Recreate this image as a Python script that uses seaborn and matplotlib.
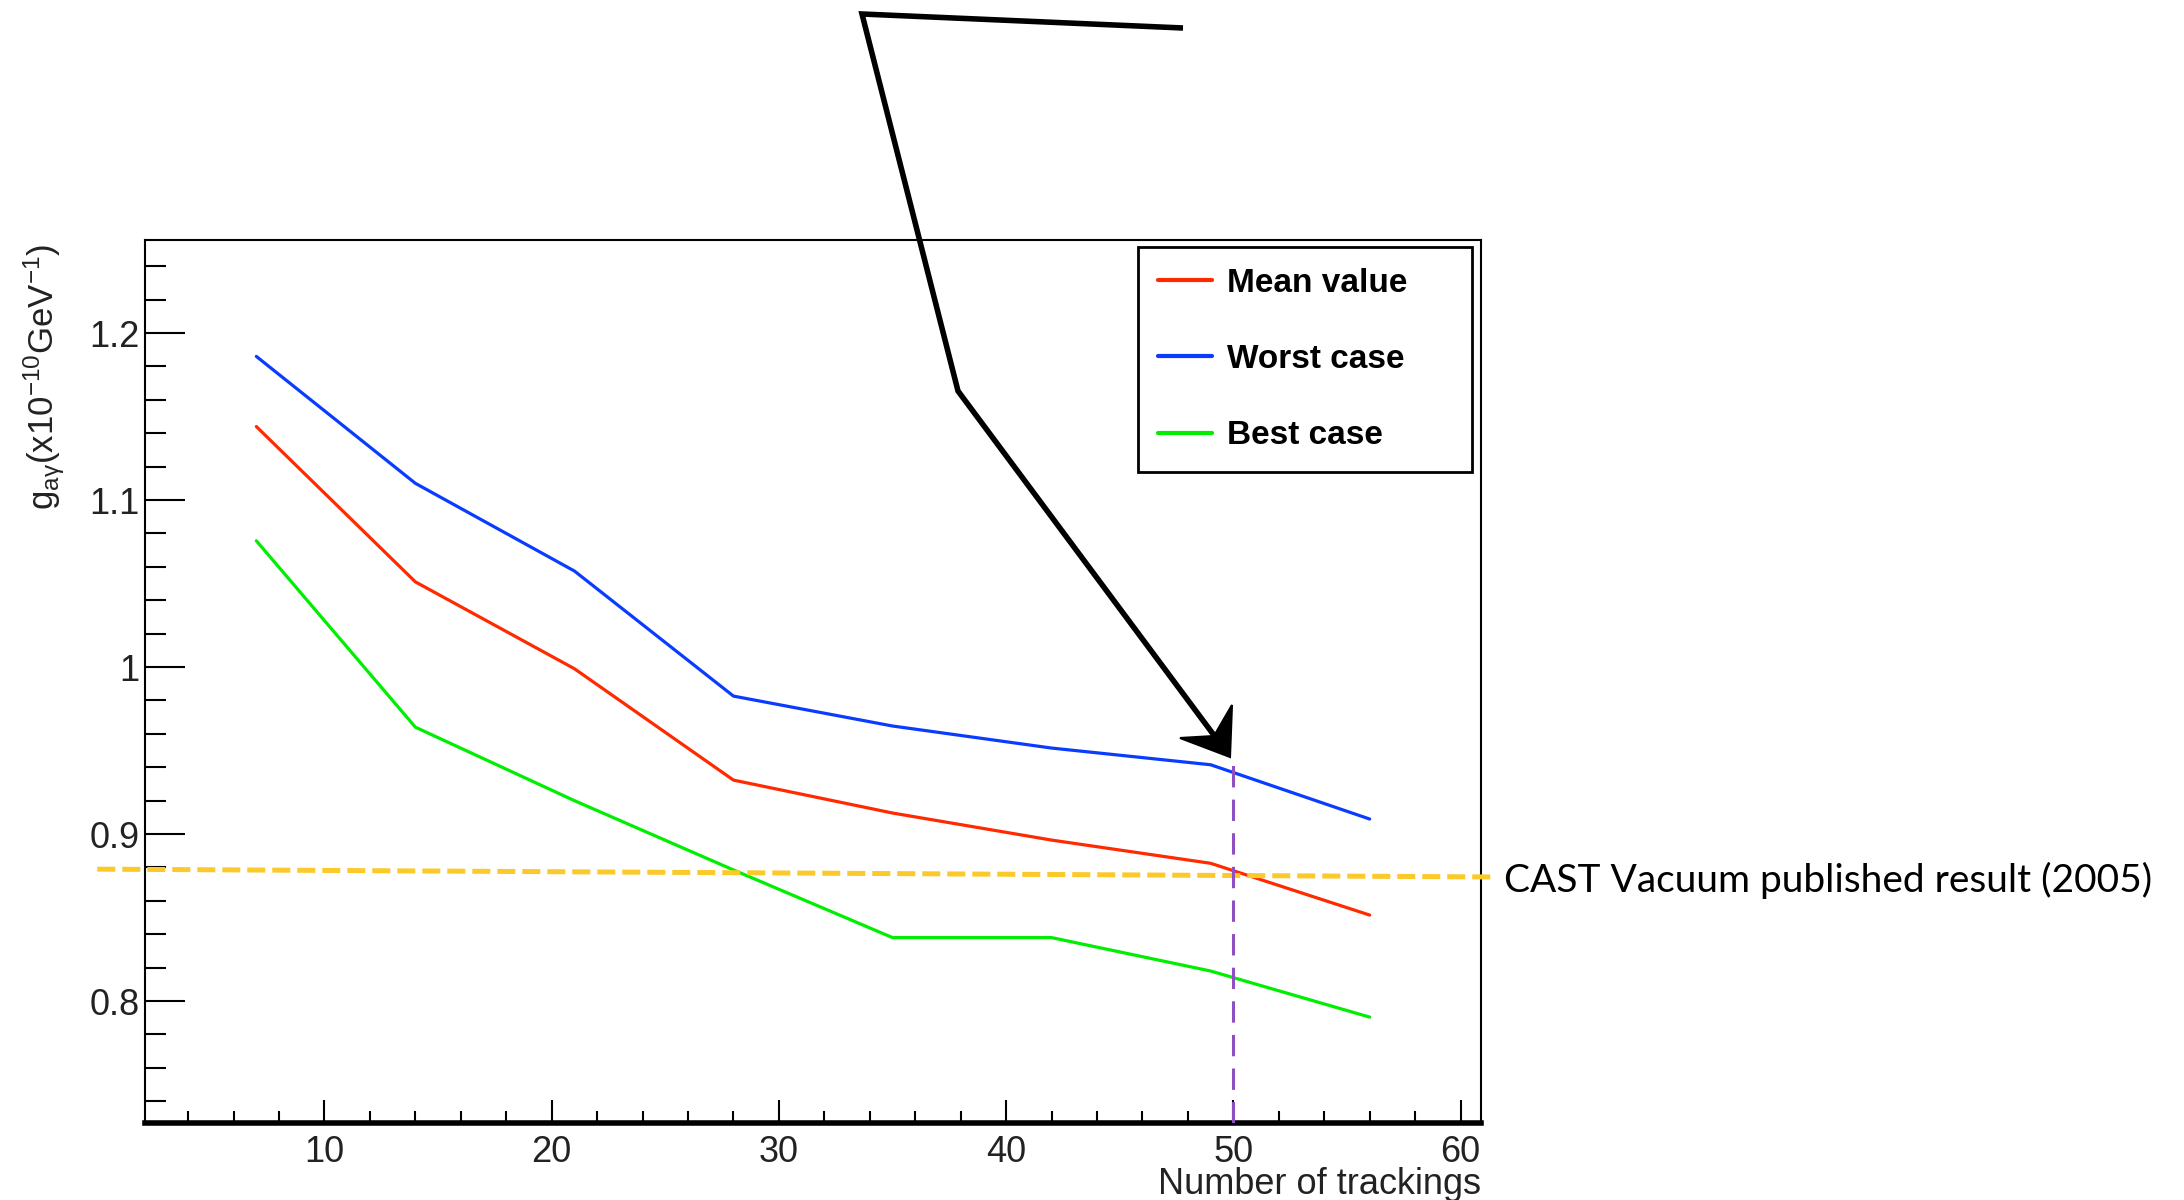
import numpy as np
import pandas as pd
import matplotlib
matplotlib.use("Agg")
import matplotlib.pyplot as plt
import seaborn as sns
from matplotlib.ticker import MultipleLocator, FuncFormatter
from matplotlib.lines import Line2D
from matplotlib.patches import Polygon

# ---------------- data ----------------
trackings = [7, 14, 21, 28, 35, 42, 49, 56]
mean_value = [1.144, 1.051, 0.999, 0.9323, 0.9126, 0.8964, 0.8825, 0.8515]
worst_case = [1.186, 1.110, 1.0575, 0.9826, 0.9647, 0.9515, 0.9415, 0.909]
best_case = [1.0756, 0.964, 0.920, 0.8785, 0.8380, 0.8380, 0.818, 0.7904]
series_names = ["Mean value", "Worst case", "Best case"]
series_colors = ["#ff2a00", "#0a3cff", "#00ee00"]

x_ticks_major = 10
x_ticks_minor = 2
y_ticks_major = 0.1
y_ticks_minor = 0.02
x_range = [2.1, 60.9]
y_range = [0.727, 1.2557]

cast_label = "CAST Vacuum published result (2005)"
cast_x = [0.0, 61.6]
cast_y = [0.879, 0.8743]
marker_x = 50
marker_top = 0.944

x_label = "Number of trackings"
y_label = r"$\mathregular{g_{a\gamma}(x10^{-10}GeV^{-1})}$"

# hand-drawn arrow (figure pixel positions, annotation only)
arrow_path_px = [(1183, 28), (862, 14), (958, 391), (1216, 738)]
arrow_head_px = [(1180, 738), (1230, 757), (1232, 705), (1214, 736)]

# ---------------- style ----------------
W, H = 2184, 1200
sns.set_style("ticks")
plt.rcParams["font.family"] = ["Liberation Sans", "DejaVu Sans"]
plt.rcParams["mathtext.fontset"] = "custom"
plt.rcParams["mathtext.rm"] = "Liberation Sans"
plt.rcParams["mathtext.it"] = "Liberation Sans:italic"

fig = plt.figure(figsize=(W / 100, H / 100), dpi=100)
ax = fig.add_axes([145 / W, 1 - 1123 / H, 1336 / W, 883 / H])

df = pd.DataFrame({
    "trackings": trackings * 3,
    "g": mean_value + worst_case + best_case,
    "series": [n for n in series_names for _ in trackings],
})
sns.lineplot(data=df, x="trackings", y="g", hue="series",
             hue_order=series_names,
             palette=dict(zip(series_names, series_colors)),
             linewidth=2.3, estimator=None, sort=False, ax=ax, legend=True)

old = ax.get_legend()
handles = old.legend_handles
labels = [t.get_text() for t in old.get_texts()]
old.remove()
for h in handles:
    h.set_linewidth(3)
leg = ax.legend(handles, labels, loc="upper left",
                bbox_to_anchor=(0.743, 0.741, 0.250, 0.251), mode="expand",
                borderaxespad=0, borderpad=0.62, labelspacing=1.36,
                handlelength=1.6, handletextpad=0.45, fancybox=False,
                framealpha=1, edgecolor="black",
                prop={"family": "Liberation Sans", "weight": "bold", "size": 24})
leg.get_frame().set_linewidth(2)
for t in leg.get_texts():
    t.set_color("black")

# reference lines
ax.plot(cast_x, cast_y, color="#fbc92a", linewidth=3.6,
        linestyle=(0, (3.6, 1.4)), clip_on=False, zorder=5)
ax.vlines(marker_x, y_range[0], marker_top, colors="#8e4fc0", linewidth=2.2,
          linestyles=[(0, (7, 4))], zorder=6)

ax.set_xlim(*x_range)
ax.set_ylim(*y_range)
ax.xaxis.set_major_locator(MultipleLocator(x_ticks_major))
ax.xaxis.set_minor_locator(MultipleLocator(x_ticks_minor))
ax.yaxis.set_major_locator(MultipleLocator(y_ticks_major))
ax.yaxis.set_minor_locator(MultipleLocator(y_ticks_minor))
ax.yaxis.set_major_formatter(FuncFormatter(lambda v, p: f"{v:g}"))
ax.xaxis.set_major_formatter(FuncFormatter(lambda v, p: f"{v:g}"))

ax.tick_params(axis="both", which="both", direction="in", colors="black",
               top=False, right=False)
ax.tick_params(axis="x", which="major", length=16.5, width=1.5, labelsize=26, pad=9)
ax.tick_params(axis="x", which="minor", length=8.5, width=1.5)
ax.tick_params(axis="y", which="major", length=29, width=1.5, labelsize=26, pad=4)
ax.tick_params(axis="y", which="minor", length=15, width=1.5)
for lab in ax.get_yticklabels():
    lab.set_color("#222222")
for lab in ax.get_xticklabels():
    lab.set_color("#222222")

for name, sp in ax.spines.items():
    sp.set_visible(True)
    sp.set_color("black")
    sp.set_linewidth(1.5)
ax.spines["bottom"].set_linewidth(4)
ax.grid(False)

ax.set_xlabel(x_label, fontsize=26, loc="right", color="#222222")
ax.xaxis.set_label_coords(1.0, -0.050)
ax.xaxis.label.set_va("top")
ax.set_ylabel(y_label, fontsize=25, loc="top", color="#222222")
ax.yaxis.set_label_coords(-0.075, 0.996)
ax.yaxis.label.set_va("center")

fig.text(1504 / W, 1 - 880 / H, cast_label, fontsize=28,
         family=["Lato", "DejaVu Sans"], ha="left", va="center", color="black")

# hand-drawn arrow annotation
ax_pts = [(x / W, 1 - y / H) for x, y in arrow_path_px]
fig.add_artist(Line2D([p[0] for p in ax_pts], [p[1] for p in ax_pts],
                      transform=fig.transFigure, color="black", linewidth=4,
                      solid_joinstyle="miter", solid_capstyle="butt", zorder=10))
fig.add_artist(Polygon([(x / W, 1 - y / H) for x, y in arrow_head_px], closed=True,
                       transform=fig.transFigure, facecolor="black",
                       edgecolor="black", linewidth=1.5, zorder=10))

fig.savefig("out.png", dpi=100, facecolor="white")
